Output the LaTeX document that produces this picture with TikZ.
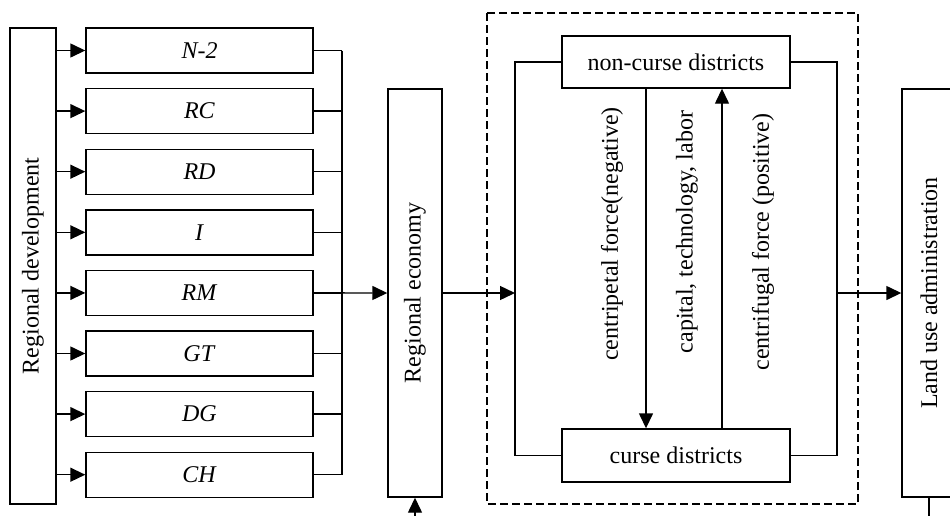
\documentclass[tikz,border=0pt]{standalone}
\usepackage{fontspec}
\setmainfont{Liberation Serif}
\usetikzlibrary{arrows.meta}

\begin{document}
\begin{tikzpicture}[x=1pt, y=-1pt, line width=1.4pt,
  box/.style={draw, inner sep=0pt, font=\fontsize{24}{28}\selectfont},
  fac/.style={box, minimum width=227pt, minimum height=45pt},
  lbl/.style={inner sep=0pt, rotate=90, font=\fontsize{24}{28}\selectfont},
  arr/.style={-{Triangle[length=15pt,width=14pt]}}]
\useasboundingbox (0,0) rectangle (950,515);

\node[box, minimum width=46pt, minimum height=476pt] (dev) at (33,266) {\rotatebox{90}{Regional development}};
\node[fac] (n2) at (199.5,50.5) {\textit{N-2}};
\node[fac, below of=n2, node distance=60.6pt] (rc) {\textit{RC}};
\node[fac, below of=rc, node distance=60.6pt] (rd) {\textit{RD}};
\node[fac, below of=rd, node distance=60.6pt] (i) {\textit{I}};
\node[fac, below of=i, node distance=60.6pt] (rm) {\textit{RM}};
\node[fac, below of=rm, node distance=60.6pt] (gt) {\textit{GT}};
\node[fac, below of=gt, node distance=60.6pt] (dg) {\textit{DG}};
\node[fac, below of=dg, node distance=60.6pt] (ch) {\textit{CH}};
\node[box, minimum width=54pt, minimum height=408pt] (eco) at (415,293) {\rotatebox{90}{Regional economy}};
\node[box, minimum width=228pt, minimum height=52pt] (nc) at (676,62) {non-curse districts};
\node[box, minimum width=228pt, minimum height=53pt] (cd) at (676,455.5) {curse districts};
\node[box, minimum width=54pt, minimum height=408pt] (land) at (929,293) {\rotatebox{90}{Land use administration}};

\node[lbl] (neg) at (612,234) {centripetal force(negative)};
\node[lbl] (cap) at (687,232) {capital, technology, labor};
\node[lbl] (pos) at (763,242) {centrifugal force (positive)};

\coordinate (bus) at (342,0);
\coordinate (lb) at (515,293);
\coordinate (rb) at (837,293);
\coordinate (fbin) at (415,520);

% factors
\foreach \f in {n2,rc,rd,i,rm,gt,dg,ch}{
  \draw[arr] (dev.east |- \f.west) -- (\f.west);
  \draw (\f.east) -- (\f.east -| bus);
}
\draw (n2.east -| bus) -- (ch.east -| bus);
\draw[arr] (rm.east) -- (eco.west);
\draw[arr] (fbin) -- (eco.south);

% districts
\draw[dashed, dash pattern=on 8pt off 4pt, line width=1.2pt] (487,13) rectangle (858,504);
\draw[arr] (eco.east) -- (lb);
\draw (nc.west) -| (lb) |- (cd.west);
\draw (nc.east) -| (rb) |- (cd.east);
\draw[arr] ([xshift=-30pt]nc.south) -- ([xshift=-30pt]cd.north);
\draw[arr] ([xshift=46pt]cd.north) -- ([xshift=46pt]nc.south);
\draw[arr] (rb) -- (land.west);
\draw (land.south) -- ++(0,25);
\end{tikzpicture}
\end{document}
